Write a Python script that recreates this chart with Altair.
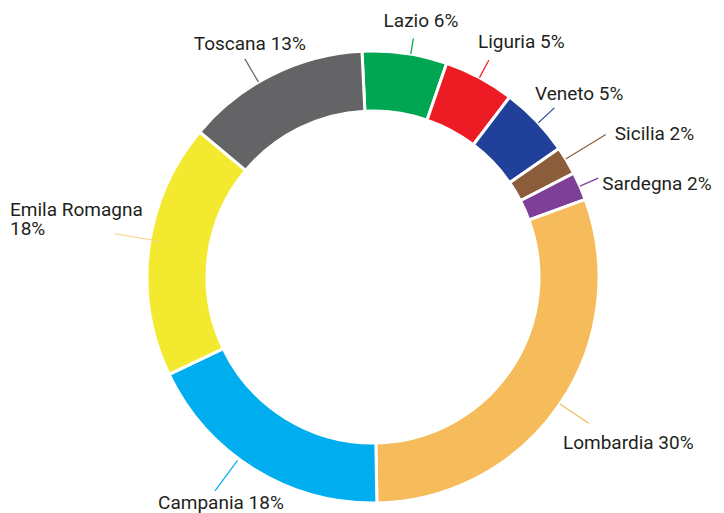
import math
import altair as alt
import pandas as pd

# ---- data ----
regions = ["Lazio", "Liguria", "Veneto", "Sicilia", "Sardegna",
           "Lombardia", "Campania", "Emila Romagna", "Toscana"]
shares = [6, 5, 5, 2, 2, 30, 18, 18, 13]
colors = ["#00a651", "#ed1c24", "#21409a", "#8b5d3b", "#7e3f98",
          "#f6bc5b", "#00aeef", "#f3ea30", "#646466"]
leader_colors = ["#00a651", "#ed1c24", "#21409a", "#8b5d3b", "#7e3f98",
                 "#f6bc5b", "#00aeef", "#f7d27a", "#646466"]

# ---- layout (not data) ----
CX, CY = 373, 277          # ring centre on the page
R_OUT, R_IN = 226, 166     # ring radii
START_DEG = -2.8           # where the first slice starts (clockwise from 12 o'clock)
W, H = 708, 505
# angle tweak, leader start radius, leader end radius, text dx, text dy, align, line break
layout = {
    "Lazio":         (1.5, 226, 242, 7.6, -11.4, "center", False),
    "Liguria":       (0.0, 226, 246, -11, -12, "left", False),
    "Veneto":        (0.7, 226, 248, -19.4, -8, "left", False),
    "Sicilia":       (-0.5, 226, 273, 9, 5.6, "left", False),
    "Sardegna":      (0.0, 226, 246, 4, 12, "left", False),
    "Lombardia":     (-0.3, 226, 261, -26, 25, "left", False),
    "Campania":      (4.7, 228, 266, 6, 18, "center", False),
    "Emila Romagna": (2.3, 215, 262, -104.6, -17.5, "left", True),
    "Toscana":       (-4.0, 226, 253, 5, -8.8, "center", False),
}

total = sum(shares)
rows = []
cum = 0
for reg, s in zip(regions, shares):
    mid = START_DEG + (cum + s / 2) / total * 360
    cum += s
    tweak, r1, r2, dx, dy, align, brk = layout[reg]
    a = math.radians(mid + tweak)
    x1, y1 = CX + r1 * math.sin(a), CY - r1 * math.cos(a)
    x2, y2 = CX + r2 * math.sin(a), CY - r2 * math.cos(a)
    text = f"{reg}{chr(10) if brk else ' '}{s}%"
    rows.append(dict(region=reg, x1=x1, y1=y1, x2=x2, y2=y2,
                     tx=x2 + dx, ty=y2 + dy, align=align, label=text))
lab = pd.DataFrame(rows)

base = pd.DataFrame({"region": regions, "share": shares, "idx": list(range(len(regions)))})

start = math.radians(START_DEG)
color_scale = alt.Scale(domain=regions, range=colors)
leader_scale = alt.Scale(domain=regions, range=leader_colors)
xs = alt.Scale(domain=[8, 8 + W], nice=False, zero=False)
ys = alt.Scale(domain=[8, 8 + H], nice=False, zero=False, reverse=True)

arcs = alt.Chart(base).mark_arc(
    outerRadius=R_OUT, innerRadius=R_IN, stroke="white", strokeWidth=3
).encode(
    theta=alt.Theta("share:Q", stack=True,
                    scale=alt.Scale(range=[start, start + 2 * math.pi])),
    order=alt.Order("idx:Q", sort="ascending"),
    color=alt.Color("region:N", scale=color_scale, legend=None),
    x=alt.value(CX - 8),
    y=alt.value(CY - 8),
)

rules = alt.Chart(lab).mark_rule(strokeWidth=1.2).encode(
    x=alt.X("x1:Q", scale=xs, axis=None),
    y=alt.Y("y1:Q", scale=ys, axis=None),
    x2="x2:Q",
    y2="y2:Q",
    stroke=alt.Stroke("region:N", scale=leader_scale, legend=None),
)

texts = []
for al in ["left", "center"]:
    t = alt.Chart(lab[lab["align"] == al]).mark_text(
        align=al, baseline="alphabetic", font="Roboto", fontSize=19,
        color="#231f20", lineBreak="\n", lineHeight=19
    ).encode(
        x=alt.X("tx:Q", scale=xs, axis=None),
        y=alt.Y("ty:Q", scale=ys, axis=None),
        text="label:N",
    )
    texts.append(t)

chart = alt.layer(arcs, rules, *texts).properties(
    width=W, height=H, padding=0, autosize="none"
).configure_view(stroke=None).resolve_scale(color="independent", stroke="independent")

chart.save("out.html", embed_options={"renderer": "svg", "actions": False})
